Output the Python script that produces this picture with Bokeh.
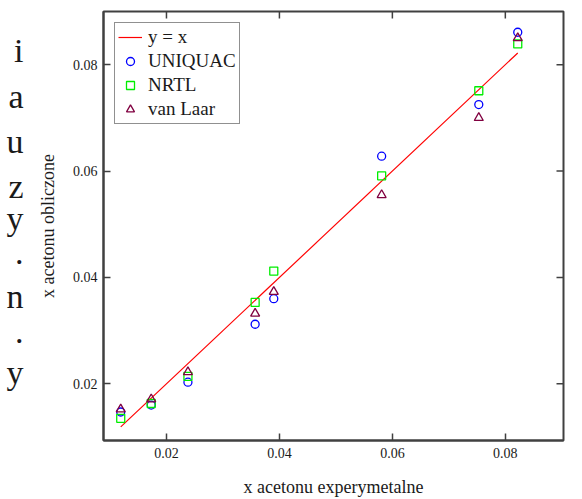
from bokeh.plotting import figure
from bokeh.models import Range1d, LinearAxis, FixedTicker, Legend, LegendItem
from bokeh.embed import file_html
from bokeh.resources import INLINE

# ---- data ----
x_exp = [0.0119, 0.0173, 0.0238, 0.0357, 0.0390, 0.0581, 0.0753, 0.0822]
uniquac = [0.0147, 0.0160, 0.0203, 0.0312, 0.0360, 0.0628, 0.0725, 0.0861]
nrtl = [0.0135, 0.0163, 0.0214, 0.0353, 0.0412, 0.0591, 0.0751, 0.0839]
van_laar = [0.0152, 0.0171, 0.0222, 0.0332, 0.0373, 0.0555, 0.0700, 0.0850]
ticks = [0.02, 0.04, 0.06, 0.08]
series_names = ["y = x", "UNIQUAC", "NRTL", "van Laar"]
x_label = "x acetonu experymetalne"
y_label = "x acetonu obliczone"
# fragments of neighbouring document text visible at the left edge
side_letters = ["i", "a", "u", "z", "y", ".", "n", ".", "y"]
side_rows = [50, 96, 141, 186, 218, 252, 296, 331, 372]   # page rows

# ---- layout ----
W, H = 582, 499
FL, FR, FT, FB = 103, 563, 11, 440     # frame edges in page px
X0, X1 = 0.00885, 0.0903
Y0, Y1 = 0.00934, 0.0900

SERIF = "Liberation Serif"
FRAME = "#404040"
TXT = "#1a1a1a"

p = figure(width=W, height=H, output_backend="svg", toolbar_location=None,
           x_range=Range1d(X0, X1), y_range=Range1d(Y0, Y1),
           min_border_left=FL, min_border_right=W - FR,
           min_border_top=FT, min_border_bottom=H - FB,
           x_axis_location=None, y_axis_location=None)
p.extra_y_ranges = {"page": Range1d(start=FB, end=FT)}
p.background_fill_color = "white"
p.border_fill_color = "white"
p.outline_line_color = FRAME
p.outline_line_width = 2
p.xgrid.visible = False
p.ygrid.visible = False

def style_axis(ax, label=None, standoff=6, label_standoff=12):
    ax.major_tick_in = 7
    ax.major_tick_out = 0
    ax.minor_tick_in = 0
    ax.minor_tick_out = 0
    ax.axis_line_color = FRAME
    ax.axis_line_width = 2
    ax.major_tick_line_color = FRAME
    ax.major_tick_line_width = 1.5
    ax.major_label_text_font = SERIF
    ax.major_label_text_color = TXT
    ax.major_label_text_font_size = "14px"
    ax.major_label_standoff = standoff
    if label:
        ax.axis_label = label
        ax.axis_label_text_font = SERIF
        ax.axis_label_text_font_size = "18px"
        ax.axis_label_text_font_style = "normal"
        ax.axis_label_text_color = TXT
        ax.axis_label_standoff = label_standoff
    return ax

xa = style_axis(LinearAxis(ticker=FixedTicker(ticks=ticks)), x_label,
                standoff=7, label_standoff=16)
ya = style_axis(LinearAxis(ticker=FixedTicker(ticks=ticks)), y_label,
                standoff=6, label_standoff=12)
p.add_layout(xa, "below")
p.add_layout(ya, "left")

# outer "axis" carrying the clipped letters of the neighbouring text
la = LinearAxis(y_range_name="page", ticker=FixedTicker(ticks=side_rows),
                major_label_overrides={r: s for r, s in zip(side_rows, side_letters)})
la.axis_line_color = None
la.major_tick_line_color = None
la.minor_tick_line_color = None
la.major_tick_out = 0
la.major_tick_in = 0
la.major_label_standoff = 11
la.major_label_text_font = SERIF
la.major_label_text_font_size = "34px"
la.major_label_text_color = TXT
p.add_layout(la, "left")

# mirrored ticks on the top and right edges of the frame
dy = 7 * (Y1 - Y0) / (FB - FT)
dx = 7 * (X1 - X0) / (FR - FL)
p.segment(x0=ticks, y0=[Y1] * 4, x1=ticks, y1=[Y1 - dy] * 4,
          line_color=FRAME, line_width=1.5)
p.segment(x0=[X1] * 4, y0=ticks, x1=[X1 - dx] * 4, y1=ticks,
          line_color=FRAME, line_width=1.5)

# ---- glyphs ----
line_x = [min(x_exp), max(x_exp)]
r_line = p.line(line_x, line_x, line_color="#ff0000", line_width=1.2)
r_u = p.scatter(x_exp, uniquac, marker="circle", size=8, fill_color=None,
                line_color="#0000ff", line_width=1.3)
r_n = p.scatter(x_exp, nrtl, marker="square", size=8, fill_color=None,
                line_color="#00ee00", line_width=1.3)
r_v = p.scatter(x_exp, van_laar, marker="triangle", size=9, fill_color=None,
                line_color="#800040", line_width=1.3)

legend = Legend(items=[LegendItem(label=n, renderers=[r]) for n, r in
                       zip(series_names, [r_line, r_u, r_n, r_v])],
                location="top_left", margin=11, padding=3, spacing=2,
                glyph_width=24, glyph_height=20, label_height=20,
                label_standoff=6, label_text_font=SERIF,
                label_text_font_size="19px", label_text_color=TXT,
                border_line_color="#222222", border_line_width=1.5,
                background_fill_color="white", background_fill_alpha=1.0)
p.add_layout(legend, "center")

open("out.html", "w").write(file_html(p, INLINE))
